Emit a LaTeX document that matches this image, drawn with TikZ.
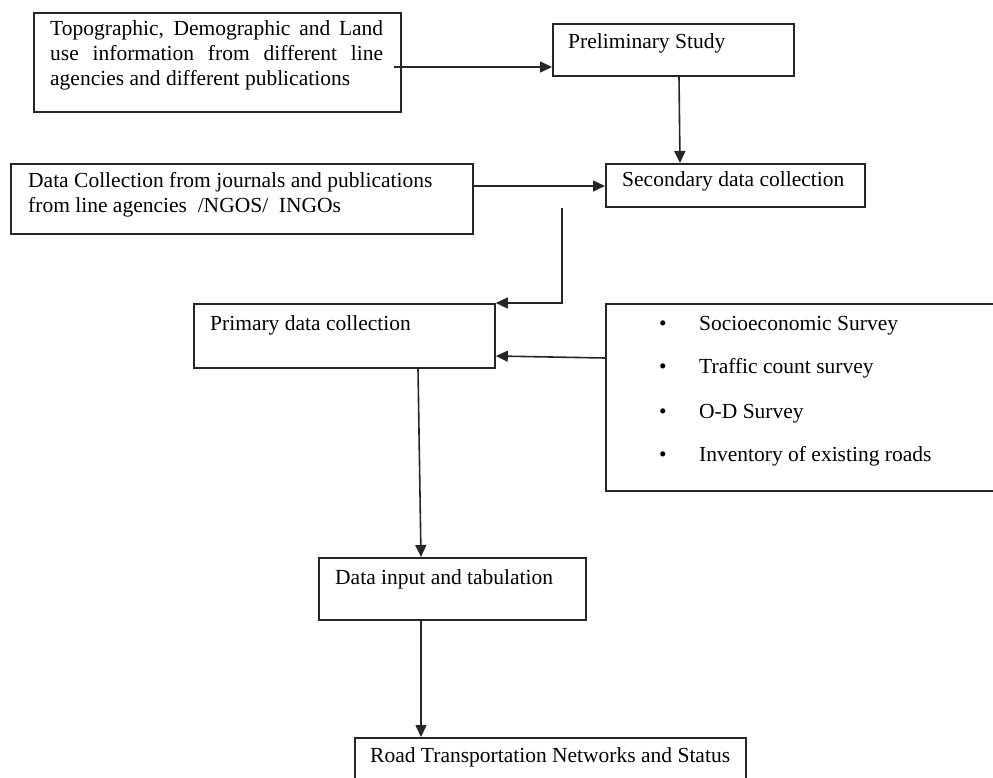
\documentclass[tikz,border=0pt]{standalone}
\usepackage{fontspec}
\setmainfont{Liberation Serif}
\usetikzlibrary{arrows.meta,calc}
\tikzset{
 box/.style={draw=black!85, line width=1.8pt, anchor=north west, inner sep=0pt},
 txt/.style={anchor=base west, inner sep=0pt, font=\fontsize{21.5}{25}\selectfont, text=black},
 conn/.style={draw=black!85, line width=1.6pt, -{Triangle[length=12pt,width=11pt]}},
}
\begin{document}
\begin{tikzpicture}[x=1pt,y=-1pt]
\useasboundingbox (0,0) rectangle (993,778);
\clip (0,0) rectangle (993,778);
% boxes
\node[box, minimum width=367pt, minimum height=99pt] (topo) at (33,12) {};
\node[box, minimum width=241pt, minimum height=52pt] (prelim) at (552,23) {};
\node[box, minimum width=462pt, minimum height=70pt] (secdc) at (10,163) {};
\node[box, minimum width=259pt, minimum height=43pt] (second) at (605,163) {};
\node[box, minimum width=301pt, minimum height=64pt] (primary) at (193,303) {};
\node[box, minimum width=400pt, minimum height=187pt] (bul) at (605,303) {};
\node[box, minimum width=267pt, minimum height=62pt] (input) at (318,557) {};
\node[box, minimum width=391pt, minimum height=60pt] (road) at (354,737) {};
% texts
\node[txt] (t1a) at (50,36) {\makebox[333pt][s]{Topographic, Demographic and Land}};
\node[txt] (t1b) at (50,61) {\makebox[333pt][s]{use information from different line}};
\node[txt] (t1c) at (50,86) {agencies and different publications};
\node[txt] (t2) at (568,49) {Preliminary Study};
\node[txt] (t3a) at (28,188) {Data Collection from journals and publications};
\node[txt] (t3b) at (28,213) {from line agencies \ /NGOS/ \ INGOs};
\node[txt] (t4) at (622,187) {Secondary data collection};
\node[txt] (t5) at (210,330) {Primary data collection};
\node[txt] (b1) at (659,330) {•};
\node[txt] (b2) at (659,373) {•};
\node[txt] (b3) at (659,418) {•};
\node[txt] (b4) at (659,461) {•};
\node[txt] (l1) at (699,330) {Socioeconomic Survey};
\node[txt] (l2) at (699,373) {Traffic count survey};
\node[txt] (l3) at (699,418) {O-D Survey};
\node[txt] (l4) at (699,461) {Inventory of existing roads};
\node[txt] (t6) at (335,584) {Data input and tabulation};
\node[txt] (t7) at (370,762) {Road Transportation Networks and Status};
% connectors
\draw[conn] ($(topo.north east)+(-8,55)$) -- ($(prelim.north west)+(0,44)$);
\draw[conn] ($(prelim.south west)+(127,0)$) -- ($(second.north west)+(75,0)$);
\draw[conn] ($(secdc.north east)+(0,23)$) -- ($(second.north west)+(0,23)$);
\draw[conn] ($(second.south west)+(-43,0)$) |- (primary.north east);
\draw[conn] ($(bul.north west)+(0,55)$) -- ($(primary.north east)+(0,53)$);
\draw[conn] ($(primary.south west)+(225,0)$) -- ($(input.north west)+(103,0)$);
\draw[conn] ($(input.south west)+(103,0)$) -- ($(road.north west)+(67,0)$);
\end{tikzpicture}
\end{document}
